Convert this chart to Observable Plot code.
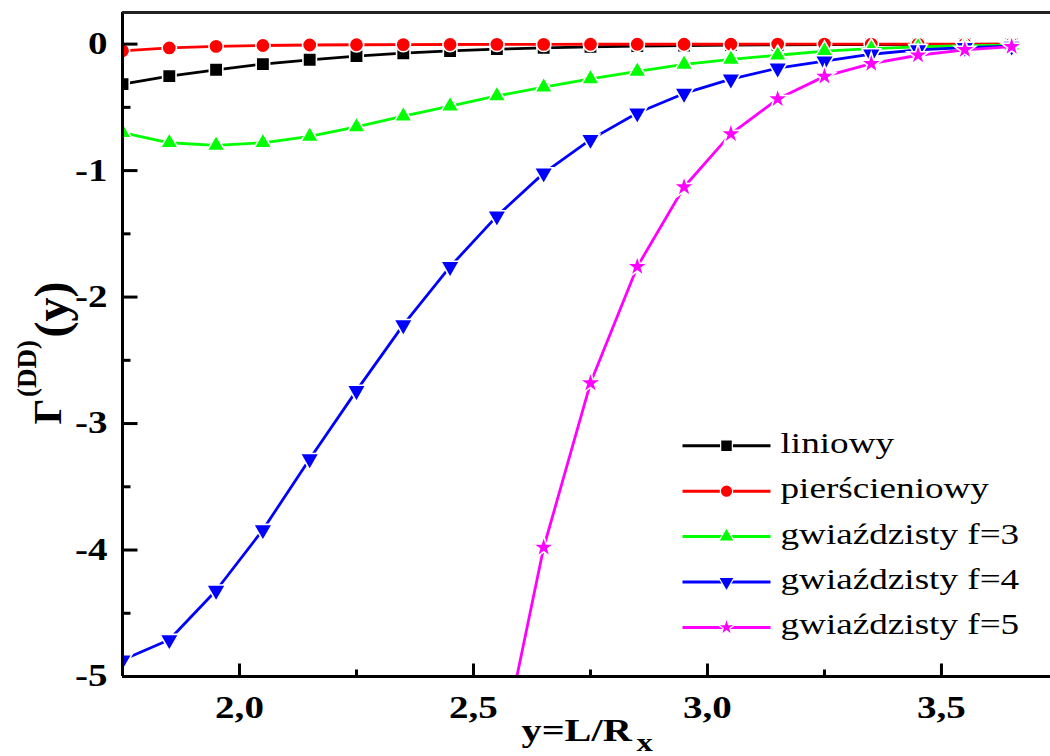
<!DOCTYPE html>
<html><head><meta charset="utf-8">
<script src="https://cdn.jsdelivr.net/npm/d3@7"></script>
<script src="https://cdn.jsdelivr.net/npm/@observablehq/plot@0.6"></script>
<style>body{margin:0;background:#fff}</style>
</head><body><div id="chart"></div>
<script>
// ---- data ----
const xs = [1.75,1.85,1.95,2.05,2.15,2.25,2.35,2.45,2.55,2.65,2.75,2.85,2.95,3.05,3.15,3.25,3.35,3.45,3.55,3.65];
const liniowy = [-0.316,-0.253,-0.203,-0.158,-0.124,-0.095,-0.072,-0.054,-0.040,-0.029,-0.021,-0.015,-0.011,-0.008,-0.006,-0.004,-0.003,-0.002,-0.0015,-0.001];
const pierscieniowy = [-0.053,-0.030,-0.018,-0.011,-0.007,-0.005,-0.004,-0.003,-0.002,-0.002,-0.001,-0.001,-0.001,-0.001,0,0,0,0,0,0];
const gwiazdzisty3 = [-0.70,-0.78,-0.80,-0.78,-0.73,-0.655,-0.57,-0.49,-0.41,-0.34,-0.275,-0.215,-0.16,-0.12,-0.088,-0.055,-0.035,-0.022,-0.013,-0.008];
const gwiazdzisty4 = [-4.87,-4.71,-4.32,-3.84,-3.28,-2.74,-2.22,-1.76,-1.36,-1.02,-0.755,-0.545,-0.39,-0.277,-0.19,-0.135,-0.08,-0.045,-0.027,-0.017];
const gwiazdzisty5 = [null,null,null,null,null,null,null,null,-5.76,-3.98,-2.68,-1.76,-1.13,-0.71,-0.434,-0.255,-0.155,-0.088,-0.045,-0.02];
const seriesNames = ["liniowy","pierścieniowy","gwiaździsty f=3","gwiaździsty f=4","gwiaździsty f=5"];
const seriesColors = ["#000000","#ff0000","#00ff00","#0000ff","#ff00ff"];
const yMajor = [0,-1,-2,-3,-4,-5];
const yMinor = [-0.5,-1.5,-2.5,-3.5,-4.5];
const xMajor = [2.0,2.5,3.0,3.5];
const xMinor = [2.25,2.75,3.25];
const xDomain = [1.75, 3.733];
const yDomain = [-5, 0.25];
const xTitle = "y=L/R", xTitleSub = "x";
const yTitleMain = "Γ", yTitleSup = "(DD)", yTitleArg = "(y)";

// ---- symbols ----
const sqrt3 = Math.sqrt(3);
const triangleDown = {draw(ctx, size){const y = -Math.sqrt(size/(sqrt3*3)); ctx.moveTo(0,-y*2); ctx.lineTo(-sqrt3*y, y); ctx.lineTo(sqrt3*y, y); ctx.closePath();}};
const tickRight = len => ({draw(ctx){ctx.moveTo(0,0); ctx.lineTo(len,0);}});
const tickUp = len => ({draw(ctx){ctx.moveTo(0,0); ctx.lineTo(0,-len);}});
const hline = {draw(ctx){ctx.moveTo(-44,0); ctx.lineTo(44,0);}};
const symbols = ["square","circle","triangle",triangleDown,"star"];
const radii = [7.6,7.2,6.6,7.0,6.8];
const legendRadii = [6.6,6.2,5.8,5.8,5.4];

const seriesValues = [liniowy,pierscieniowy,gwiazdzisty3,gwiazdzisty4,gwiazdzisty5];
const serif = "'Liberation Serif','Times New Roman',serif";

const marks = [];
seriesValues.forEach((vals, s) => {
  const rows = xs.map((x,i) => ({x, y: vals[i]})).filter(d => d.y != null);
  marks.push(Plot.line(rows, {x:"x", y:"y", stroke: seriesColors[s], strokeWidth: 2.8, clip: true}));
  marks.push(Plot.dot(rows, {x:"x", y:"y", symbol: symbols[s], r: radii[s], fill: seriesColors[s], stroke:"white", strokeWidth:1.6, clip: true}));
});

// axes frame
marks.push(Plot.ruleX([xDomain[0]], {stroke:"#000", strokeWidth:3}));
marks.push(Plot.ruleY([yDomain[0]], {stroke:"#000", strokeWidth:3}));
marks.push(Plot.ruleY([yDomain[1]], {stroke:"#222", strokeWidth:3}));
// ticks (inward)
marks.push(Plot.dot(yMajor, {y: d=>d, frameAnchor:"left", symbol: tickRight(15), fill:"none", stroke:"#000", strokeWidth:3}));
marks.push(Plot.dot(yMinor, {y: d=>d, frameAnchor:"left", symbol: tickRight(8), fill:"none", stroke:"#000", strokeWidth:3}));
marks.push(Plot.dot(xMajor, {x: d=>d, frameAnchor:"bottom", symbol: tickUp(13), fill:"none", stroke:"#000", strokeWidth:3}));
marks.push(Plot.dot(xMinor, {x: d=>d, frameAnchor:"bottom", symbol: tickUp(7), fill:"none", stroke:"#000", strokeWidth:3}));
// tick labels
marks.push(Plot.axisY(yMajor, {tickSize:0, tickPadding:15, label:null, tickFormat: d=>String(d), fontSize:31, fontWeight:"bold", fontFamily: serif, fill:"#000"}));
marks.push(Plot.axisX(xMajor, {tickSize:0, tickPadding:19, label:null, tickFormat: d=>d.toFixed(1).replace(".",","), fontSize:31, fontWeight:"bold", fontFamily: serif, fill:"#000"}));
// axis titles
marks.push(Plot.text([xTitle], {frameAnchor:"bottom-left", dx:399, dy:54, textAnchor:"start", lineAnchor:"middle", fontSize:32, fontWeight:"bold", fontFamily: serif, fill:"#000"}));
marks.push(Plot.text([xTitleSub], {frameAnchor:"bottom-left", dx:514, dy:66, textAnchor:"start", lineAnchor:"middle", fontSize:26, fontWeight:"bold", fontFamily: serif, fill:"#000"}));
marks.push(Plot.text([yTitleMain], {frameAnchor:"top-left", dx:47.5-122, dy:411-12, rotate:-90, textAnchor:"middle", lineAnchor:"middle", fontSize:41, fontWeight:"bold", fontFamily: serif, fill:"#000"}));
marks.push(Plot.text([yTitleSup], {frameAnchor:"top-left", dx:27-122, dy:368-12, rotate:-90, textAnchor:"middle", lineAnchor:"middle", fontSize:27, fontWeight:"bold", fontFamily: serif, fill:"#000"}));
marks.push(Plot.text([yTitleArg], {frameAnchor:"top-left", dx:52-122, dy:309-12, rotate:-90, textAnchor:"middle", lineAnchor:"middle", fontSize:48, fontWeight:"bold", fontFamily: serif, fill:"#000"}));
// legend
const legendTop = 445.3, legendStep = 45.4;
seriesNames.forEach((name, s) => {
  const dy = legendTop + s*legendStep - 12;
  marks.push(Plot.dot([0], {frameAnchor:"top-left", dx:604, dy, symbol: hline, fill:"none", stroke: seriesColors[s], strokeWidth:3}));
  marks.push(Plot.dot([0], {frameAnchor:"top-left", dx:604, dy, symbol: symbols[s], r: legendRadii[s], fill: seriesColors[s], stroke:"white", strokeWidth:1.2}));
  marks.push(Plot.text([name], {frameAnchor:"top-left", dx:658, dy: dy-2.5, textAnchor:"start", lineAnchor:"middle", fontSize:29.5, fontFamily: serif, fill:"#000"}));
});

const svg = Plot.plot({
  width:1050, height:756,
  marginLeft:122, marginRight:0, marginTop:12, marginBottom:80,
  style:{background:"#fff", fontFamily: serif},
  x:{domain:xDomain, axis:null},
  y:{domain:yDomain, axis:null},
  marks
});
// horizontal stretch of upright text, as in the reference typography
d3.select(svg).selectAll("text").each(function(){
  const t = this.getAttribute("transform") || "";
  if (t.includes("rotate")) return;
  this.setAttribute("transform", (t + " scale(1.26,1)").trim());
});
document.getElementById("chart").appendChild(svg);
</script>
</body></html>
